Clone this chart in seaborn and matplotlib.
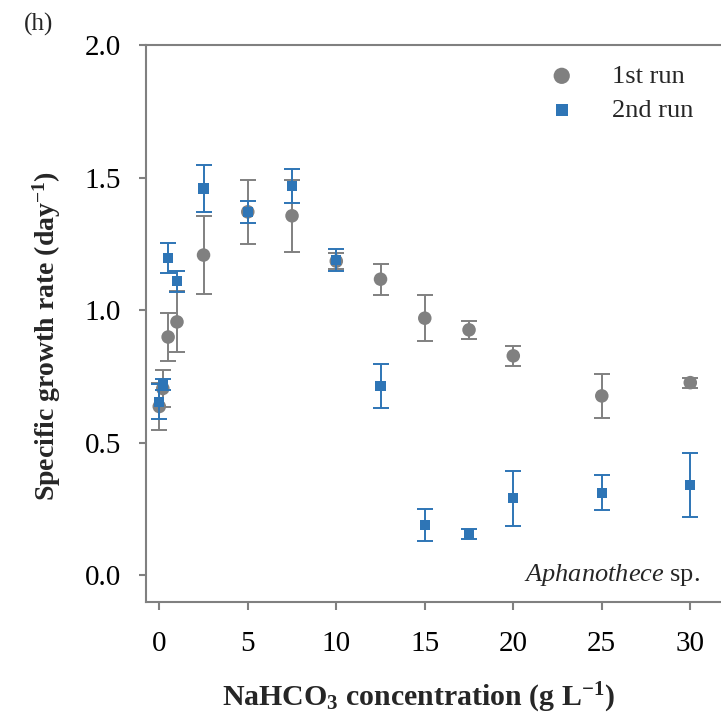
import matplotlib
matplotlib.use("Agg")
import matplotlib.pyplot as plt
import seaborn as sns
import pandas as pd

# Data
conc_run1 = [0, 0.2, 0.5, 1, 2.5, 5, 7.5, 10, 12.5, 15, 17.5, 20, 25, 30]
rate_run1 = [0.637, 0.705, 0.899, 0.956, 1.208, 1.371, 1.356, 1.185, 1.117, 0.970, 0.926, 0.828, 0.677, 0.727]
err_run1 = [0.090, 0.070, 0.090, 0.115, 0.147, 0.120, 0.135, 0.030, 0.059, 0.086, 0.035, 0.038, 0.083, 0.019]

conc_run2 = [0, 0.2, 0.5, 1, 2.5, 5, 7.5, 10, 12.5, 15, 17.5, 20, 25, 30]
rate_run2 = [0.655, 0.720, 1.196, 1.109, 1.459, 1.371, 1.469, 1.189, 0.714, 0.190, 0.156, 0.291, 0.312, 0.341]
err_run2 = [0.065, 0.020, 0.057, 0.040, 0.088, 0.042, 0.063, 0.040, 0.084, 0.060, 0.020, 0.104, 0.066, 0.119]

x_ticks = [0, 5, 10, 15, 20, 25, 30]
y_ticks = [0.0, 0.5, 1.0, 1.5, 2.0]
y_ticklabels = ["0.0", "0.5", "1.0", "1.5", "2.0"]

GRAY = "#808080"
BLUE = "#2E75B6"

sns.set_style("white")
plt.rcParams["font.family"] = ["Liberation Serif", "DejaVu Serif"]
plt.rcParams["mathtext.fontset"] = "custom"
plt.rcParams["mathtext.rm"] = "Liberation Serif"
plt.rcParams["mathtext.bf"] = "Liberation Serif:bold"
plt.rcParams["mathtext.it"] = "Liberation Serif:italic"

df1 = pd.DataFrame({"conc": conc_run1, "rate": rate_run1, "run": "1st run"})
df2 = pd.DataFrame({"conc": conc_run2, "rate": rate_run2, "run": "2nd run"})

fig = plt.figure(figsize=(7.21, 7.22), dpi=100)
ax = fig.add_axes([0.2025, 0.1662, 0.804, 0.7715])

ax.errorbar(conc_run1, rate_run1, yerr=err_run1, fmt="none", ecolor=GRAY,
            elinewidth=1.4, capsize=6, capthick=1.4, zorder=2)
sns.scatterplot(data=df1, x="conc", y="rate", ax=ax, color=GRAY, marker="o",
                s=95, edgecolor="none", label="1st run", zorder=3)
ax.errorbar(conc_run2, rate_run2, yerr=err_run2, fmt="none", ecolor=BLUE,
            elinewidth=1.4, capsize=6, capthick=1.4, zorder=4)
sns.scatterplot(data=df2, x="conc", y="rate", ax=ax, color=BLUE, marker="s",
                s=55, edgecolor="none", label="2nd run", zorder=5)

ax.set_xlim(-0.75, 32)
ax.set_ylim(-0.1, 2.0)
ax.set_xticks(x_ticks)
ax.set_xticklabels([str(t) for t in x_ticks])
ax.set_yticks(y_ticks)
ax.set_yticklabels(y_ticklabels)

for s in ["left", "bottom", "top"]:
    ax.spines[s].set_color(GRAY)
    ax.spines[s].set_linewidth(1.5)
ax.spines["right"].set_visible(False)

ax.tick_params(axis="both", direction="out", color=GRAY, width=1.5,
               labelsize=21, labelcolor="black")
ax.tick_params(axis="x", length=6, pad=15, bottom=True)
ax.tick_params(axis="y", length=5, pad=13, left=True)

ax.set_xlabel(r"NaHCO$_\mathbf{3}$ concentration (g L$^{\mathbf{-1}}$)",
              fontsize=21.5, fontweight="bold")
ax.xaxis.set_label_coords(0.47, -0.142)
ax.set_ylabel(r"Specific growth rate (day$^{\mathbf{-1}}$)",
              fontsize=20, fontweight="bold")
ax.yaxis.set_label_coords(-0.143, 0.478)

leg = ax.legend(loc="upper right", bbox_to_anchor=(0.985, 1.008), frameon=False,
                fontsize=19, handletextpad=0.9, labelspacing=0.4,
                markerscale=1.2)

ax.text(0.955, 0.025, r"$\mathit{Aphanothece}$ sp.", transform=ax.transAxes,
        ha="right", va="bottom", fontsize=19)

fig.text(39 / 721, 1 - 24 / 722, "(h)", ha="center", va="center", fontsize=18)

fig.savefig("out.png", dpi=100)
